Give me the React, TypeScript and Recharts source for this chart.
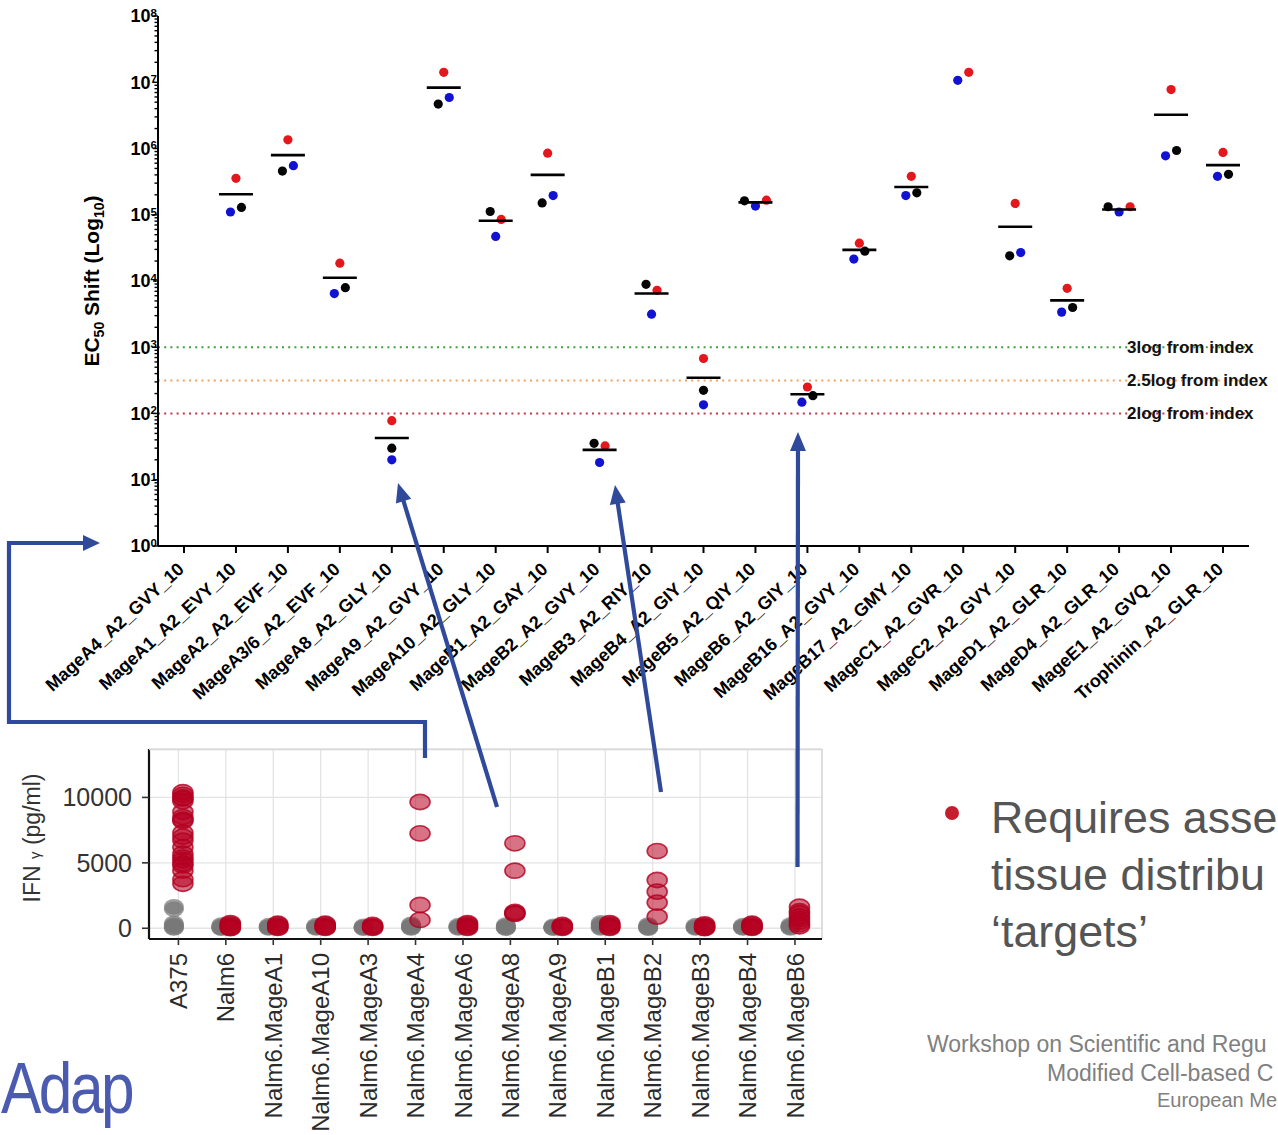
import React from 'react';
import { ComposedChart, ScatterChart, Scatter, XAxis, YAxis, ReferenceLine, CartesianGrid } from 'recharts';

const FONT = "'Liberation Sans', Arial, Helvetica, sans-serif";

// ---------- Top chart data: EC50 shift per peptide ----------
const categories = [
  'MageA4_A2_GVY_10', 'MageA1_A2_EVY_10', 'MageA2_A2_EVF_10', 'MageA3/6_A2_EVF_10', 'MageA8_A2_GLY_10',
  'MageA9_A2_GVY_10', 'MageA10_A2_GLY_10', 'MageB1_A2_GAY_10', 'MageB2_A2_GVY_10', 'MageB3_A2_RIY_10',
  'MageB4_A2_GIY_10', 'MageB5_A2_QIY_10', 'MageB6_A2_GIY_10', 'MageB16_A2_GVY_10', 'MageB17_A2_GMY_10',
  'MageC1_A2_GVR_10', 'MageC2_A2_GVY_10', 'MageD1_A2_GLR_10', 'MageD4_A2_GLR_10', 'MageE1_A2_GVQ_10',
  'Trophinin_A2_GLR_10',
];
const redShift = [null, 355000, 1350000, 18600, 78, 14100000, 85000, 851000, 32.4, 7240, 676, 166000, 251, 37200, 380000, 14100000, 148000, 7760, 132000, 7760000, 871000];
const blackShift = [null, 129000, 457000, 7940, 30, 4680000, 112000, 151000, 35.5, 8900, 224, 162000, 186, 28200, 214000, null, 24000, 3980, 132000, 933000, 407000];
const blueShift = [null, 110000, 550000, 6460, 20, 5890000, 47000, 195000, 18.2, 3160, 135, 135000, 148, 21400, 195000, 10700000, 26900, 3390, 110000, 776000, 380000];
const meanShift = [null, 204000, 794000, 11200, 42.7, 8300000, 81000, 400000, 28.2, 6460, 347, 154000, 195, 29500, 263000, null, 66000, 5100, 120000, 3240000, 562000];

const majorTicks = [1, 10, 100, 1000, 10000, 100000, 1000000, 10000000, 100000000];
const minorMultipliers = [2, 3, 4, 5, 6, 7, 8, 9];

const thresholds = [1000, 316.2, 100];
const thresholdLabels = ['3log from index', '2.5log from index', '2log from index'];
const thresholdColors = ['#3f9f3f', '#efa35c', '#c23847'];

// ---------- Bottom chart data: IFN-gamma ----------
const ifnCategories = [
  'A375', 'Nalm6', 'Nalm6.MageA1', 'Nalm6.MageA10', 'Nalm6.MageA3', 'Nalm6.MageA4', 'Nalm6.MageA6',
  'Nalm6.MageA8', 'Nalm6.MageA9', 'Nalm6.MageB1', 'Nalm6.MageB2', 'Nalm6.MageB3', 'Nalm6.MageB4', 'Nalm6.MageB6',
];
const ifnControl = [
  [1650, 1450, 380, 250, 150, 60, 20],
  [250, 150, 80, 40, 10],
  [200, 120, 60, 20],
  [200, 120, 60, 20],
  [150, 80, 40, 10],
  [300, 200, 120, 60, 20],
  [200, 120, 60, 20],
  [250, 160, 100, 40, 10],
  [150, 80, 40, 10],
  [420, 300, 180, 80, 20],
  [250, 160, 100, 40, 10],
  [200, 120, 60, 20],
  [200, 120, 60, 20],
  [250, 150, 80, 30],
];
const ifnTarget = [
  [10400, 10200, 10000, 9900, 9700, 8900, 8500, 8300, 8200, 7300, 7000, 6700, 6200, 5700, 5400, 5200, 4950, 4800, 4400, 3750, 3400],
  [400, 300, 200, 120, 50, 10],
  [350, 250, 150, 80, 30],
  [350, 250, 150, 80, 30],
  [250, 150, 80, 30],
  [9650, 7250, 1780, 640],
  [400, 300, 200, 100, 30],
  [6490, 4400, 1250, 1150, 1100],
  [250, 150, 80, 30],
  [400, 300, 200, 100, 30],
  [5900, 3690, 2800, 1960, 890],
  [300, 200, 120, 50, 10],
  [350, 250, 150, 80, 30],
  [1650, 1300, 1150, 900, 700, 500, 300, 150],
];
const ifnTicks = [0, 5000, 10000];

// ---------- derived tables ----------
type SeriesKey = 'red' | 'black' | 'blue';
const SERIES: SeriesKey[] = ['red', 'black', 'blue'];
const shiftRows = categories.map((name, i) => ({
  name,
  red: redShift[i],
  black: blackShift[i],
  blue: blueShift[i],
  mean: meanShift[i],
}));
const yTicks: number[] = [];
majorTicks.forEach((m, i) => {
  yTicks.push(m);
  if (i < majorTicks.length - 1) minorMultipliers.forEach((k) => yTicks.push(m * k));
});
const controlPoints = ifnControl.flatMap((arr, i) => arr.map((v) => ({ x: i + 1, v })));
const targetPoints = ifnTarget.flatMap((arr, i) => arr.map((v) => ({ x: i + 1, v })));
const ifnXTicks = ifnCategories.map((_, i) => i + 1);

// ---------- layout constants ----------
const TOP_W = 1278;
const TOP_H = 720;
const PLOT_TOP = 16;
const PLOT_BOTTOM = 546;
const PX_PER_DECADE = (PLOT_BOTTOM - PLOT_TOP) / 8;
const DOT_R = 4.6;
const DOT_GAP = 9;
const STEP = 5.5;

// beeswarm-like horizontal spreading of overlapping replicate dots
function offsetsFor(g: { k: SeriesKey; y: number }[]): number[] {
  if (g.length === 1) return [0];
  const order = (idx: number[]) =>
    idx.slice().sort((a, b) => {
      const ra = g[a].k === 'red' ? 1 : 0;
      const rb = g[b].k === 'red' ? 1 : 0;
      return ra - rb || g[a].y - g[b].y;
    });
  const res = new Array(g.length).fill(0);
  if (g.length === 2) {
    const o = order([0, 1]);
    res[o[0]] = -STEP;
    res[o[1]] = STEP;
    return res;
  }
  const o = order([1, 2]);
  res[0] = 0;
  res[o[0]] = -2 * STEP;
  res[o[1]] = 2 * STEP;
  return res;
}
function jitterOf(row: any): Record<string, number> {
  const pts = SERIES.filter((k) => row[k] != null).map((k) => ({ k, y: Math.log10(row[k]) * PX_PER_DECADE }));
  pts.sort((a, b) => a.y - b.y);
  const groups: { k: SeriesKey; y: number }[][] = [];
  for (const p of pts) {
    const g = groups[groups.length - 1];
    if (g) {
      const offs = offsetsFor(g);
      const hit = g.some((q, j) => Math.hypot(offs[j], p.y - q.y) < DOT_GAP);
      if (hit) {
        g.push(p);
        continue;
      }
    }
    groups.push([p]);
  }
  const result: Record<string, number> = {};
  for (const g of groups) {
    const offs = offsetsFor(g);
    g.forEach((q, j) => (result[q.k] = offs[j]));
  }
  return result;
}

const makeDot = (key: SeriesKey, color: string) => (props: any) => {
  const { cx, cy, payload } = props;
  if (!payload || payload[key] == null || !Number.isFinite(cx) || !Number.isFinite(cy)) return <g />;
  const dx = jitterOf(payload)[key] ?? 0;
  return <circle cx={cx + dx} cy={cy} r={DOT_R} fill={color} />;
};
const MeanBar = (props: any) => {
  const { cx, cy, payload } = props;
  if (!payload || payload.mean == null || !Number.isFinite(cx) || !Number.isFinite(cy)) return <g />;
  return <line x1={cx - 17} x2={cx + 17} y1={cy} y2={cy} stroke="#000" strokeWidth={2.6} />;
};

const ShiftXTick = (props: any) => {
  const { x, y, payload } = props;
  return (
    <text
      transform={`translate(${x - 3},${y + 11}) rotate(-42.5)`}
      textAnchor="end"
      dy="0.35em"
      fontSize={18}
      fontWeight={700}
      fontFamily={FONT}
      fill="#000"
    >
      {payload.value}
    </text>
  );
};
const ShiftYTick = (props: any) => {
  const { x, y, payload } = props;
  const v = payload.value;
  const lg = Math.log10(v);
  const exp = Math.round(lg);
  const major = Math.abs(lg - exp) < 1e-6;
  return (
    <g>
      <line x1={x - (major ? 5 : 3.5)} x2={x} y1={y} y2={y} stroke="#000" strokeWidth={1.4} />
      {major && (
        <text x={x - 1} y={y} dy="0.35em" textAnchor="end" fontSize={18} fontWeight={700} fontFamily={FONT} fill="#000">
          10
          <tspan dy={-5.5} fontSize={11.5}>
            {exp}
          </tspan>
        </text>
      )}
    </g>
  );
};
const RefLabel = (text: string) => (props: any) => {
  const vb = props.viewBox || {};
  const right = (vb.x ?? 158) + (vb.width ?? 1091);
  return (
    <text x={right - 122} y={vb.y} dy="0.35em" fontSize={17} fontWeight={700} fontFamily={FONT} fill="#111">
      {text}
    </text>
  );
};

const IfnXTick = (props: any) => {
  const { x, y, payload } = props;
  const label = ifnCategories[Math.round(payload.value) - 1] ?? '';
  return (
    <text
      transform={`translate(${x},${y}) rotate(-90)`}
      textAnchor="end"
      dy="0.36em"
      fontSize={24}
      fontFamily={FONT}
      fill="#2b2b2b"
    >
      {label}
    </text>
  );
};
const IfnYTick = (props: any) => {
  const { x, y, payload } = props;
  return (
    <text x={x} y={y} dy="0.36em" textAnchor="end" fontSize={25} fontFamily={FONT} fill="#333">
      {payload.value}
    </text>
  );
};
const ControlDot = (props: any) => {
  const { cx, cy } = props;
  if (!Number.isFinite(cx) || !Number.isFinite(cy)) return <g />;
  return <ellipse cx={cx - 4.5} cy={cy} rx={10} ry={7.8} fill="rgba(120,120,120,0.7)" />;
};
const TargetDot = (props: any) => {
  const { cx, cy } = props;
  if (!Number.isFinite(cx) || !Number.isFinite(cy)) return <g />;
  return (
    <ellipse
      cx={cx + 4.5}
      cy={cy}
      rx={10}
      ry={7.6}
      fill="rgba(182,0,32,0.55)"
      stroke="rgba(178,0,32,0.8)"
      strokeWidth={1.6}
    />
  );
};

function Arrow({ x1, y1, x2, y2, color }: { x1: number; y1: number; x2: number; y2: number; color: string }) {
  const dx = x2 - x1;
  const dy = y2 - y1;
  const len = Math.hypot(dx, dy);
  const ux = dx / len;
  const uy = dy / len;
  const hl = 19;
  const hw = 8;
  const bx = x2 - ux * hl;
  const by = y2 - uy * hl;
  const px = -uy;
  const py = ux;
  return (
    <g>
      <line x1={x1} y1={y1} x2={bx + ux * 2} y2={by + uy * 2} stroke={color} strokeWidth={4.2} />
      <polygon points={`${x2},${y2} ${bx + px * hw},${by + py * hw} ${bx - px * hw},${by - py * hw}`} fill={color} />
    </g>
  );
}

export default function App() {
  const arrowColor = '#2f4a9a';
  return (
    <div
      style={{
        position: 'absolute',
        left: 0,
        top: 0,
        width: 1278,
        height: 1135,
        overflow: 'hidden',
        background: '#fff',
        fontFamily: FONT,
      }}
    >
      <div style={{ position: 'absolute', left: 0, top: 0 }}>
        <ComposedChart width={TOP_W} height={TOP_H} data={shiftRows} margin={{ top: PLOT_TOP, right: 29, bottom: 0, left: 0 }}>
          <XAxis
            dataKey="name"
            type="category"
            height={TOP_H - PLOT_BOTTOM}
            interval={0}
            padding={{ left: 26, right: 26 }}
            tickSize={7}
            tickMargin={2}
            axisLine={{ stroke: '#000', strokeWidth: 2 }}
            tickLine={{ stroke: '#000', strokeWidth: 2 }}
            tick={<ShiftXTick />}
          />
          <YAxis
            type="number"
            scale="log"
            domain={[1, 100000000]}
            allowDataOverflow
            ticks={yTicks}
            interval={0}
            width={158}
            tickSize={0}
            tickMargin={0}
            tickLine={false}
            axisLine={{ stroke: '#000', strokeWidth: 2 }}
            tick={<ShiftYTick />}
          />
          {thresholds.map((t, i) => (
            <ReferenceLine
              key={thresholdLabels[i]}
              y={t}
              stroke={thresholdColors[i]}
              strokeWidth={2}
              strokeDasharray="2 4.2"
              label={RefLabel(thresholdLabels[i])}
            />
          ))}
          <Scatter dataKey="red" isAnimationActive={false} shape={makeDot('red', '#e3171c')} />
          <Scatter dataKey="black" isAnimationActive={false} shape={makeDot('black', '#050505')} />
          <Scatter dataKey="blue" isAnimationActive={false} shape={makeDot('blue', '#1212d2')} />
          <Scatter dataKey="mean" isAnimationActive={false} shape={<MeanBar />} />
        </ComposedChart>
      </div>

      <div style={{ position: 'absolute', left: 0, top: 740 }}>
        <ScatterChart width={840} height={395} margin={{ top: 9, right: 18, bottom: 0, left: 0 }}>
          <CartesianGrid stroke="#e4e4e4" strokeWidth={1.3} />
          <XAxis
            type="number"
            dataKey="x"
            domain={[0.38, 14.57]}
            allowDataOverflow
            ticks={ifnXTicks}
            interval={0}
            height={196}
            tickSize={6}
            tickMargin={8}
            axisLine={{ stroke: '#111', strokeWidth: 2.2 }}
            tickLine={{ stroke: '#333', strokeWidth: 1.6 }}
            tick={<IfnXTick />}
          />
          <YAxis
            type="number"
            dataKey="v"
            domain={[-820, 13700]}
            allowDataOverflow
            ticks={ifnTicks}
            interval={0}
            width={149}
            tickSize={7}
            tickMargin={10}
            axisLine={{ stroke: '#111', strokeWidth: 2.2 }}
            tickLine={{ stroke: '#333', strokeWidth: 1.6 }}
            tick={<IfnYTick />}
          />
          <Scatter data={controlPoints} isAnimationActive={false} shape={<ControlDot />} />
          <Scatter data={targetPoints} isAnimationActive={false} shape={<TargetDot />} />
        </ScatterChart>
      </div>

      <svg
        width={1278}
        height={1135}
        style={{ position: 'absolute', left: 0, top: 0, pointerEvents: 'none' }}
      >
        {/* bottom panel frame (top/right) */}
        <line x1={149} y1={749.5} x2={822} y2={749.5} stroke="#d8d8d8" strokeWidth={1.5} />
        <line x1={822} y1={749} x2={822} y2={938} stroke="#d8d8d8" strokeWidth={1.5} />

        {/* top chart y-axis title */}
        <text
          transform="translate(99,281) rotate(-90)"
          textAnchor="middle"
          fontSize={21}
          fontWeight={700}
          fontFamily={FONT}
          fill="#000"
        >
          EC
          <tspan dy={5} fontSize={14}>
            50
          </tspan>
          <tspan dy={-5}> Shift (Log</tspan>
          <tspan dy={5} fontSize={14}>
            10
          </tspan>
          <tspan dy={-5}>)</tspan>
        </text>

        {/* bottom chart y-axis title */}
        <text transform="translate(40,838) rotate(-90)" textAnchor="middle" fontSize={23} fontFamily={FONT} fill="#333">
          IFN <tspan fontSize={15}>γ</tspan> (pg/ml)
        </text>

        {/* annotation arrows */}
        <path d="M 425 758 L 425 722 L 9 722 L 9 543 L 84 543" fill="none" stroke={arrowColor} strokeWidth={4.2} />
        <polygon points="100,543 83,535 83,551" fill={arrowColor} />
        <Arrow x1={497} y1={807} x2={398} y2={483} color={arrowColor} />
        <Arrow x1={661} y1={792} x2={615} y2={485} color={arrowColor} />
        <Arrow x1={797.5} y1={867} x2={798} y2={432} color={arrowColor} />

        {/* bullet text */}
        <circle cx={952} cy={813} r={7} fill="#c41e2e" />
        <text x={991} y={833} fontSize={44.8} fontFamily={FONT} fill="#555">
          Requires asse
        </text>
        <text x={991} y={890} fontSize={44.8} fontFamily={FONT} fill="#555">
          tissue distribu
        </text>
        <text x={991} y={947} fontSize={44.8} fontFamily={FONT} fill="#555">
          ‘targets’
        </text>

        {/* footer */}
        <text x={927} y={1052} fontSize={23} fontFamily={FONT} fill="#808080">
          Workshop on Scientific and Regu
        </text>
        <text x={1047} y={1081} fontSize={23} fontFamily={FONT} fill="#808080">
          Modified Cell-based C
        </text>
        <text x={1157} y={1107} fontSize={20} fontFamily={FONT} fill="#808080">
          European Me
        </text>

        {/* logo fragment */}
        <text
          transform="translate(1,1113) scale(0.84,1)"
          fontSize={72}
          fontFamily={FONT}
          fill="#4b5bb0"
          letterSpacing={-3}
        >
          Adap
        </text>
      </svg>
    </div>
  );
}
